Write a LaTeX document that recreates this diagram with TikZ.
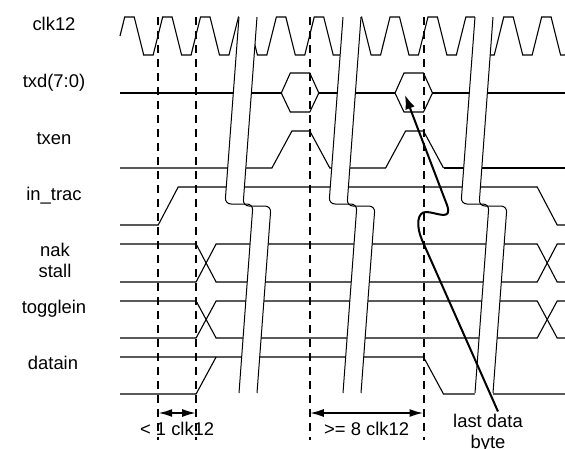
\documentclass[tikz,border=0pt]{standalone}
\usepackage{fontspec}
\setmainfont{Liberation Sans}
\usetikzlibrary{arrows.meta,positioning}

\begin{document}
\begin{tikzpicture}[x=1pt,y=-1pt]
	\tikzstyle{sig}=[line width=1.1pt]
	\tikzstyle{bus}=[line width=2.1pt]
	\tikzstyle{guide}=[line width=2pt, dash pattern=on 8pt off 6pt]
	\tikzstyle{brk}=[line width=1pt, rounded corners=6pt]
	\tikzstyle{dim}=[{Latex[length=14pt,width=8pt]}-{Latex[length=14pt,width=8pt]}, line width=2pt]
	\tikzstyle{callout}=[-{Latex[length=14pt,width=10pt]}, line width=2pt]
	\tikzstyle{lbl}=[inner sep=0pt, font=\fontsize{18.4}{21}\selectfont]
	\useasboundingbox (0,0) rectangle (565,448);

	% signal names
	\node[lbl, anchor=base] (clk) at (54,30.5) {clk12};
	\node[lbl, anchor=base] (txd) at (54,87.5) {txd(7:0)};
	\node[lbl, anchor=base] (txen) at (54,144) {txen};
	\node[lbl, anchor=base] (intrac) at (54,200.5) {in\_trac};
	\node[lbl, anchor=base] (nak) at (55,256.5) {nak};
	\node[lbl, anchor=base] (stall) at (55,277) {stall};
	\node[lbl, anchor=base] (toggle) at (54,313.5) {togglein};
	\node[lbl, anchor=base] (datain) at (53,369.5) {datain};

	% waveforms
	\draw[sig] (120,36) -- (124.74,17)
		\foreach \k in {0,...,11} { -- ++(9.475,0) -- ++(9.475,38) -- ++(9.475,0) -- ++(9.475,-38) };
	\draw[bus] (120,93) -- (281.3,93) (318.8,93) -- (395,93) (432.5,93) -- (565,93);
	\foreach \x in {281.3,395}
		\draw[sig] (\x,93) -- ++(9,-20) -- ++(19.5,0) -- ++(9,20) -- ++(-9,19) -- ++(-19.5,0) -- cycle;
	\draw[sig] (120,168) -- (271.9,168) -- (291.9,131) -- (309.8,131) -- (329.8,168)
		-- (385.6,168) -- (405.6,131) -- (423.5,131) -- (443.5,168);
	\draw[bus] (443.5,168) -- (565,168);
	\draw[sig] (120,225) -- (158.2,225) -- (178.2,187) -- (537.2,187) -- (557.2,225) -- (565,225);
	\foreach \a/\b in {244/282,301/338} {
		\draw[sig] (120,\a) -- (196.1,\a) -- (216.1,\b) -- (537.2,\b) -- (557.2,\a) -- (565,\a);
		\draw[sig] (120,\b) -- (196.1,\b) -- (216.1,\a) -- (537.2,\a) -- (557.2,\b) -- (565,\b);
	}
	\draw[sig] (120,357) -- (423.5,357) -- (443.5,394) -- (565,394);
	\draw[sig] (120,394) -- (196.1,394) -- (216.1,357);

	% time breaks
	\foreach \dx in {0,104,236} {
		\begin{scope}[xshift=\dx pt]
			\fill[white, rounded corners=6pt] (239.8,6) -- (225,204) -- (253,204) -- (238.2,404)
				-- (256.2,404) -- (271,206) -- (243,206) -- (257.8,6) -- cycle;
			\draw[brk] (239,17) -- (225,204) -- (253,204) -- (239,393);
			\draw[brk] (257,17) -- (243,206) -- (271,206) -- (257,393);
		\end{scope}
	}

	% clock edges
	\foreach \x/\n in {158.2/g1,196.1/g2,309.8/g3,423.5/g4} {
		\draw[guide] (\x,17) -- (\x,440);
		\coordinate (\n) at (\x,413);
	}
	\draw[dim] (g1) -- (g2) coordinate[midway] (m12);
	\draw[dim] (g3) -- (g4) coordinate[midway] (m34);
	\node[lbl, below=8.5pt of m12] (lessone) {< 1 clk12};
	\node[lbl, below=8.5pt of m34] (eight) {>= 8 clk12};

	% last byte
	\coordinate (hexpt) at (405,95);
	\node[lbl, align=center, anchor=north] (lastbyte) at (488,413.5) {last data\\byte};
	\draw[callout] ([shift={(10pt,2pt)}]lastbyte.north) -- (422,240)
		.. controls (416,226) and (417,212) .. (426,212)
		.. controls (436,212) and (453,222) .. (447,205) -- (hexpt);
\end{tikzpicture}
\end{document}
